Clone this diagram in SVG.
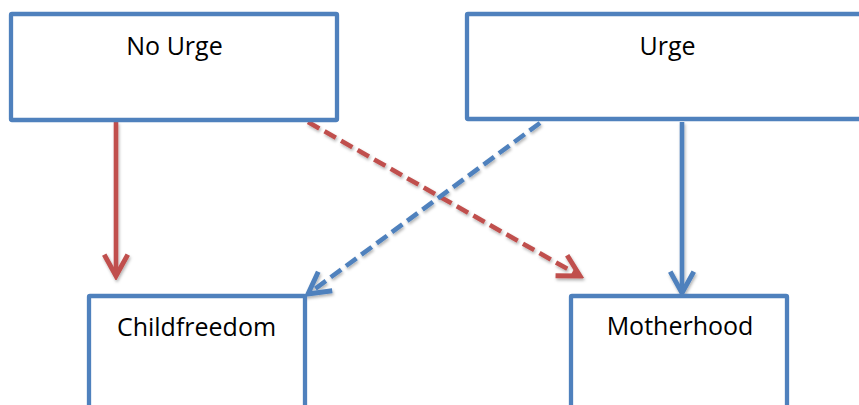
<svg xmlns="http://www.w3.org/2000/svg" width="859" height="405" viewBox="0 0 859 405">
  <defs>
    <style>
      .box { fill: #ffffff; stroke: #4F81BD; stroke-width: 4.3; }
      .label { font-family: "Open Sans", "Liberation Sans", sans-serif; font-size: 25px; fill: #000000; text-anchor: middle; }
      .red { stroke: #C0504D; stroke-width: 4.6; fill: none; }
      .blue { stroke: #4F81BD; stroke-width: 4.6; fill: none; }
      .dash { stroke-dasharray: 13 6; }
    </style>
    <filter id="shadow" x="-20%" y="-20%" width="140%" height="140%">
      <feDropShadow dx="1" dy="2" stdDeviation="1.5" flood-color="#000000" flood-opacity="0.3"/>
    </filter>
    <marker id="arrowRed" markerUnits="userSpaceOnUse" markerWidth="30" markerHeight="30" viewBox="-24 -14 28 28" refX="0" refY="0" orient="auto">
      <path d="M-20,-11 L0,0 L-20,11" fill="none" stroke="#C0504D" stroke-width="4.6" stroke-linejoin="miter"/>
    </marker>
    <marker id="arrowBlue" markerUnits="userSpaceOnUse" markerWidth="30" markerHeight="30" viewBox="-24 -14 28 28" refX="0" refY="0" orient="auto">
      <path d="M-20,-11 L0,0 L-20,11" fill="none" stroke="#4F81BD" stroke-width="4.6" stroke-linejoin="miter"/>
    </marker>
  </defs>
  <rect width="859" height="405" fill="#ffffff"/>

  <g id="connectors" filter="url(#shadow)">
    <line class="red" x1="116" y1="122" x2="116" y2="276" marker-end="url(#arrowRed)"/>
    <line class="blue" x1="682" y1="122" x2="682" y2="293" marker-end="url(#arrowBlue)"/>
    <line class="red dash" x1="308" y1="122" x2="580" y2="276" marker-end="url(#arrowRed)"/>
    <line class="blue dash" x1="540" y1="123" x2="308" y2="294" marker-end="url(#arrowBlue)"/>
  </g>

  <g id="node-no-urge">
    <rect class="box" x="11" y="14" width="326" height="106" rx="1"/>
    <text class="label" x="174.5" y="55">No Urge</text>
  </g>
  <g id="node-urge">
    <rect class="box" x="467" y="14" width="410" height="105" rx="1"/>
    <text class="label" x="667.5" y="55">Urge</text>
  </g>
  <g id="node-childfreedom">
    <rect class="box" x="89" y="296" width="216" height="130" rx="1"/>
    <text class="label" x="196.5" y="336">Childfreedom</text>
  </g>
  <g id="node-motherhood">
    <rect class="box" x="571" y="296" width="216" height="130" rx="1"/>
    <text class="label" x="680" y="335">Motherhood</text>
  </g>
</svg>
